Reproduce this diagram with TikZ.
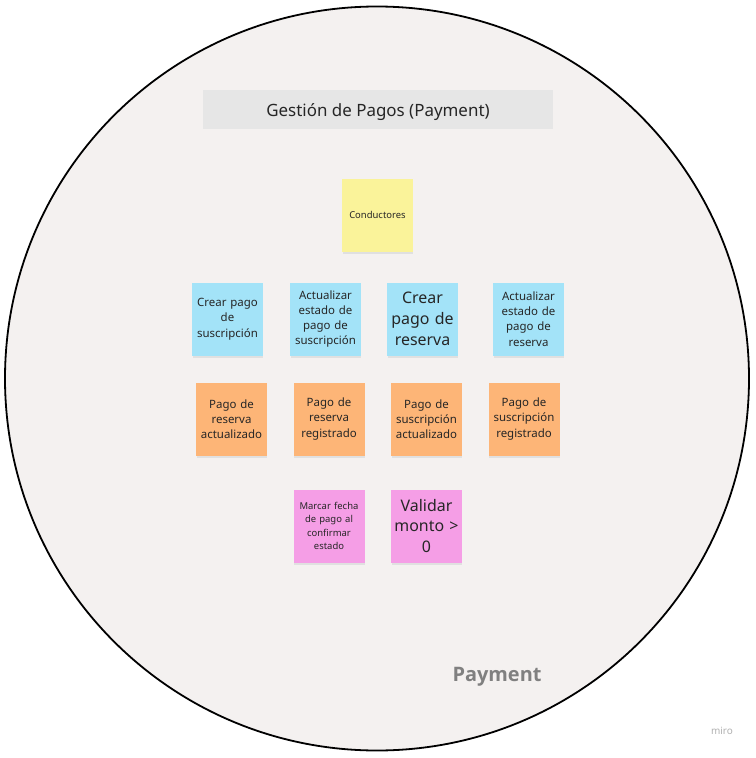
\documentclass[tikz,border=0pt]{standalone}
\usepackage{fontspec}
\setmainfont{Noto Sans}
\newfontfamily\payfont{Open Sans}
\begin{document}
\begin{tikzpicture}[x=1bp,y=-1bp,
  sticky/.style={minimum width=71bp, minimum height=73bp, inner sep=0pt, align=center, text width=64bp, text=black!85},
  f9/.style={font=\fontsize{9.5}{13.5}\selectfont},
  f12/.style={font=\fontsize{11.5}{15.3}\selectfont},
  f16/.style={font=\fontsize{16}{20.8}\selectfont}]
\definecolor{bgc}{HTML}{F4F1F0}
\definecolor{yel}{HTML}{FAF39A}
\definecolor{blu}{HTML}{A3E3F8}
\definecolor{ora}{HTML}{FDB577}
\definecolor{pin}{HTML}{F59EE6}
\definecolor{ttl}{HTML}{E6E6E6}
\useasboundingbox (0,0) rectangle (756,758);
\fill[white] (0,0) rectangle (756,758);
\draw[fill=bgc, line width=1.8bp] (377,378.5) ellipse [x radius=372, y radius=372];
\node[fill=ttl, minimum width=350bp, minimum height=39bp, inner sep=0pt] (titlebox) at (378,109.5) {};
\node[anchor=base, inner sep=0pt, font=\fontsize{17}{20}\selectfont, text=black!85] (title) at (378,116) {Gestión de Pagos (Payment)};
% shadows
\foreach \x/\y in {377.5/215,227.5/319,325.5/319,422.5/319,528.5/319,231.5/419,329/419,426.5/419,524/419,329/526,426.5/526}{
  \fill[black!12] (\x-35,\y-34) rectangle (\x+35.5,\y+38.5);
}
\node[sticky, fill=yel, f9] (cond) at (377.5,215) {Conductores};
\node[sticky, fill=blu, f12] (b1) at (227.5,319) {Crear pago\\de\\suscripción};
\node[sticky, fill=blu, f12] (b2) at (325.5,319) {Actualizar estado de pago de suscripción};
\node[sticky, fill=blu, f16] (b3) at (422.5,319) {Crear pago de reserva};
\node[sticky, fill=blu, f12] (b4) at (528.5,319) {Actualizar estado de pago de reserva};
\node[sticky, fill=ora, f12] (o1) at (231.5,419) {Pago de reserva actualizado};
\node[sticky, fill=ora, f12] (o2) at (329,419) {Pago de reserva registrado};
\node[sticky, fill=ora, f12] (o3) at (426.5,419) {Pago de suscripción actualizado};
\node[sticky, fill=ora, f12] (o4) at (524,419) {Pago de suscripción registrado};
\node[sticky, fill=pin, f9] (p1) at (329,526) {Marcar fecha de pago al confirmar estado};
\node[sticky, fill=pin, f16, text width=70bp] (p2) at (426.5,526) {Validar\\monto >\\0};
\node[font=\payfont\fontsize{20}{24}\selectfont\bfseries, text=black!50] (pay) at (497,677) {Payment};
\node[font=\fontsize{10}{12}\selectfont, text=black!30] (miro) at (722,731) {miro};
\end{tikzpicture}
\end{document}
